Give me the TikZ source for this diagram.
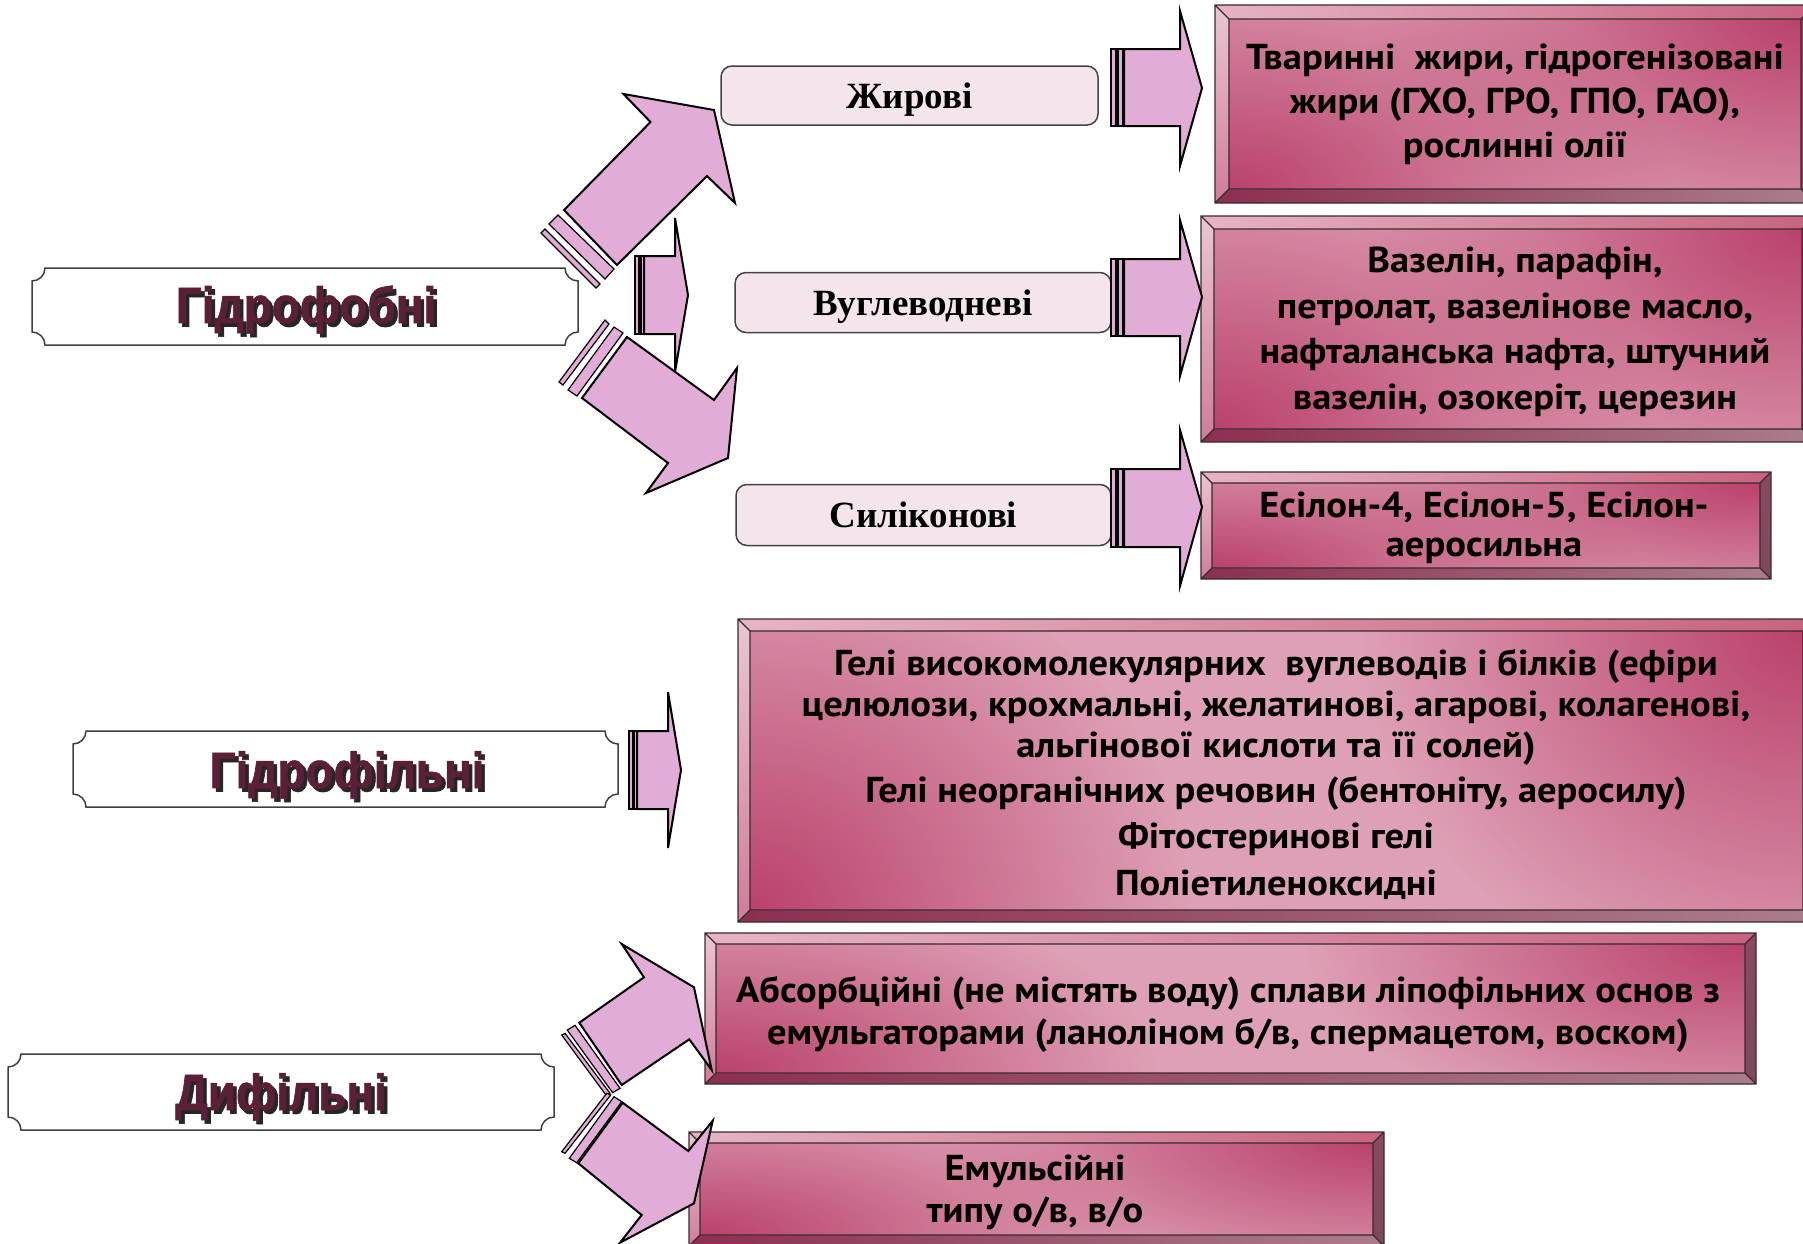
\documentclass[tikz,border=0pt]{standalone}
\usepackage{fontspec}
\usetikzlibrary{fadings}
\setmainfont{Liberation Serif}
\newfontfamily\labfam{Liberation Serif}
\newfontfamily\plfam{Liberation Sans}[FakeStretch=0.9, FakeBold=1.2]
\newfontfamily\bxfam{PT Sans}[FakeStretch=1.07]
\newcommand\labfont{\labfam\bfseries\fontsize{37}{40}\selectfont}
\newcommand\plfont{\plfam\bfseries\fontsize{51}{54}\selectfont}
\newcommand\bxf[1]{\bxfam\bfseries\fontsize{36}{#1}\selectfont}
\definecolor{arrowfill}{HTML}{E1ACD5}
\definecolor{labfill}{HTML}{F3E5EB}
\definecolor{labline}{HTML}{454045}
\definecolor{plline}{HTML}{404040}
\definecolor{plaquetxt}{HTML}{5C1F38}
\definecolor{facelight}{HTML}{DEA0B6}
\definecolor{facedark}{HTML}{BA426C}
\definecolor{bevtopL}{HTML}{E6B4C5}
\definecolor{bevtopR}{HTML}{C8637F}
\definecolor{bevleftT}{HTML}{EAC6D2}
\definecolor{bevleftB}{HTML}{D07C9A}
\definecolor{bevbotL}{HTML}{8C2F52}
\definecolor{bevbotR}{HTML}{AA7D8B}
\definecolor{bevrightT}{HTML}{8A4A62}
\definecolor{bevrightB}{HTML}{7A4A5C}
\definecolor{edge}{HTML}{3A2A30}
\tikzfading[name=cornerfade, inner color=transparent!0, outer color=transparent!100]
\tikzset{
  arrowshape/.style={fill=arrowfill, draw=black, line width=2pt, line join=miter},
  stripe/.style={fill=arrowfill, draw=black, line width=1.2pt},
  labbox/.style={draw=labline, fill=labfill, rounded corners=11pt, line width=1.5pt, font=\labfont, inner sep=0pt, text height=30pt, text depth=5pt},
  plaqueline/.style={draw=plline, fill=white, line width=1.5pt},
  pltext/.style={font=\plfont, text=plaquetxt, inner sep=0pt, anchor=base},
  plshadow/.style={font=\plfont, text=black!85, inner sep=0pt, anchor=base},
  boxtxt/.style={font=\bxf{44}, align=center, text=black, inner sep=0pt},
}
\newcommand\bevbox[5]{%
 \shade[left color=bevtopL, right color=bevtopR] (#1,#2) -- (#3,#2) -- ({#3-#5},{#2+#5}) -- ({#1+#5},{#2+#5}) -- cycle;
 \shade[top color=bevleftT, bottom color=bevleftB] (#1,#2) -- ({#1+#5},{#2+#5}) -- ({#1+#5},{#4-#5}) -- (#1,#4) -- cycle;
 \shade[left color=bevbotL, right color=bevbotR] (#1,#4) -- ({#1+#5},{#4-#5}) -- ({#3-#5},{#4-#5}) -- (#3,#4) -- cycle;
 \shade[top color=bevrightT, bottom color=bevrightB] (#3,#2) -- (#3,#4) -- ({#3-#5},{#4-#5}) -- ({#3-#5},{#2+#5}) -- cycle;
 \pgfmathsetmacro\rxv{min(440,0.75*(#3-#1))}%
 \pgfmathsetmacro\ryv{1.25*(#4-#2)}%
 \begin{scope}
  \clip ({#1+#5},{#2+#5}) rectangle ({#3-#5},{#4-#5});
  \fill[facelight] ({#1+#5},{#2+#5}) rectangle ({#3-#5},{#4-#5});
  \fill[facedark, path fading=cornerfade] ({#3-#5},{#2+#5}) ellipse [x radius=\rxv pt, y radius=\ryv pt];
  \fill[facedark, path fading=cornerfade] ({#1+#5},{#4-#5}) ellipse [x radius=\rxv pt, y radius=\ryv pt];
 \end{scope}
 \draw[edge, line width=1.3pt] (#1,#2) rectangle (#3,#4) ({#1+#5},{#2+#5}) rectangle ({#3-#5},{#4-#5})
   (#1,#2) -- ({#1+#5},{#2+#5}) (#3,#2) -- ({#3-#5},{#2+#5}) (#1,#4) -- ({#1+#5},{#4-#5}) (#3,#4) -- ({#3-#5},{#4-#5});
}
\newcommand\plaque[4]{% x0 y0 x1 y1
 \draw[plaqueline] ({#1+13},#2) -- ({#3-13},#2) .. controls ({#3-13},{#2+7.2}) and ({#3-7.2},{#2+13}) .. (#3,{#2+13})
   -- (#3,{#4-13}) .. controls ({#3-7.2},{#4-13}) and ({#3-13},{#4-7.2}) .. ({#3-13},#4)
   -- ({#1+13},#4) .. controls ({#1+13},{#4-7.2}) and ({#1+7.2},{#4-13}) .. (#1,{#4-13})
   -- (#1,{#2+13}) .. controls ({#1+7.2},{#2+13}) and ({#1+13},{#2+7.2}) .. ({#1+13},#2) -- cycle;
}
\begin{document}
\begin{tikzpicture}[x=1pt,y=-1pt]
\useasboundingbox (0,0) rectangle (1803,1243);
\clip (0,0) rectangle (1803,1243);

% left plaques
\plaque{32}{268}{578}{345}
\node[plshadow] (phobS) at (309.5,326.5) {Гідрофобні};
\node[pltext] (phob) at (306,323) {Гідрофобні};
\plaque{73}{731}{618}{807}
\node[plshadow] (philS) at (350.5,791.5) {Гідрофільні};
\node[pltext] (phil) at (347,788) {Гідрофільні};
\plaque{8}{1054}{554}{1130}
\node[plshadow] (diphS) at (284.5,1113.5) {Дифільні};
\node[pltext] (diph) at (281,1110) {Дифільні};

% label boxes
\node[labbox, minimum width=377pt, minimum height=59pt] (zhyr) at (909.5,95.5) {Жирові};
\node[labbox, minimum width=376pt, minimum height=60pt] (vugl) at (923,302.5) {Вуглеводневі};
\node[labbox, minimum width=375pt, minimum height=61pt] (silk) at (923.5,515) {Силіконові};

% beveled boxes
\bevbox{1215}{5}{1815}{203}{14}
\node[boxtxt] (t1) at (1515,104) {Тваринні\ \ жири, гідрогенізовані\\жири (ГХО, ГРО, ГПО, ГАО),\\рослинні олії};
\bevbox{1201}{216}{1815}{442}{13}
\node[boxtxt, font=\bxf{45.5}] (t2) at (1515,332) {Вазелін, парафін,\\петролат, вазелінове масло,\\нафталанська нафта, штучний\\вазелін, озокеріт, церезин};
\bevbox{1201}{472}{1771}{579}{11}
\node[boxtxt, font=\bxf{39}] (t3) at (1484,527.5) {Есілон-4, Есілон-5, Есілон-\\аеросильна};
\bevbox{738}{619}{1815}{922}{12}
\node[boxtxt, font=\bxf{41}] (t4) at (1276,774) {Гелі високомолекулярних\ \ вуглеводів і білків (ефіри\\целюлози, крохмальні, желатинові, агарові, колагенові,\\альгінової кислоти та її солей)\\[4pt]Гелі неорганічних речовин (бентоніту, аеросилу)\\[5pt]Фітостеринові гелі\\[6pt]Поліетиленоксидні};
\bevbox{705}{933}{1756}{1084}{11}
\node[boxtxt, font=\bxf{42}] (t5) at (1228,1014) {Абсорбційні (не містять воду) сплави ліпофільних основ з\\емульгаторами (ланоліном б/в, спермацетом, воском)};
\bevbox{689}{1132}{1384}{1246}{11}
\node[boxtxt, font=\bxf{42}] (t6) at (1035,1192) {Емульсійні\\типу о/в, в/о};

% right arrows
\draw[stripe] (1111,49) rectangle (1116,126) (1118,49) rectangle (1123,126);
\draw[arrowshape] (1124,49) -- (1180,49) -- (1180,11) -- (1202,88) -- (1180,166) -- (1180,126) -- (1124,126) -- cycle;
\draw[stripe] (1111,259) rectangle (1116,336) (1118,259) rectangle (1123,336);
\draw[arrowshape] (1124,259) -- (1180,259) -- (1180,220) -- (1202,297) -- (1180,376) -- (1180,336) -- (1124,336) -- cycle;
\draw[stripe] (1111,469) rectangle (1116,547) (1118,469) rectangle (1123,547);
\draw[arrowshape] (1124,469) -- (1180,469) -- (1180,430) -- (1202,507) -- (1180,586) -- (1180,547) -- (1124,547) -- cycle;

% hydrophobic arrows
\draw[stripe] (549,224) -- (558,215) -- (614,269) -- (605,279) -- cycle;
\draw[stripe] (541,233) -- (545,229) -- (600,284) -- (596,288) -- cycle;
\draw[arrowshape] (564,210) -- (650.5,122) -- (623.5,94) -- (714,110) -- (735,203) -- (707,176) -- (617,265) -- cycle;
\draw[stripe] (635,256) rectangle (639,334) (641,256) rectangle (644,334);
\draw[arrowshape] (644,256) -- (675,256) -- (675,218) -- (688,295) -- (675,372) -- (675,334) -- (644,334) -- cycle;
\draw[stripe] (568,390) -- (614,327) -- (623,333) -- (577,396) -- cycle;
\draw[stripe] (559,382) -- (605,320) -- (609,324) -- (563,385) -- cycle;
\draw[arrowshape] (627,337) -- (714,400) -- (737,368) -- (728,458) -- (646,493) -- (668,463) -- (582,398) -- cycle;

% hydrophilic arrow
\draw[stripe] (629,731) rectangle (633,809) (634,731) rectangle (637,809);
\draw[arrowshape] (637,731) -- (668,731) -- (668,692) -- (681,770) -- (668,848) -- (668,809) -- (637,809) -- cycle;

% diphilic arrows
\draw[stripe] (575,1025.3) -- (620,1088.3) -- (612.7,1092.7) -- (567.3,1030) -- cycle;
\draw[stripe] (565,1033.3) -- (610,1093.3) -- (606.7,1096) -- (561.7,1035) -- cycle;
\draw[arrowshape] (579.3,1022.7) -- (644,977.3) -- (621.7,944) -- (694,987.3) -- (711.7,1070) -- (689.3,1039.3) -- (621.7,1085) -- cycle;
\draw[stripe] (614,1096.7) -- (621.7,1101.7) -- (576.7,1162.7) -- (569.3,1158.3) -- cycle;
\draw[stripe] (606.7,1093.3) -- (610.7,1095) -- (565,1153.3) -- (561.7,1151.7) -- cycle;
\draw[arrowshape] (622.7,1102.7) -- (688.3,1151) -- (712.7,1120.7) -- (694,1203.3) -- (620,1242.7) -- (641.7,1215) -- (578.3,1163.3) -- cycle;
\end{tikzpicture}
\end{document}
